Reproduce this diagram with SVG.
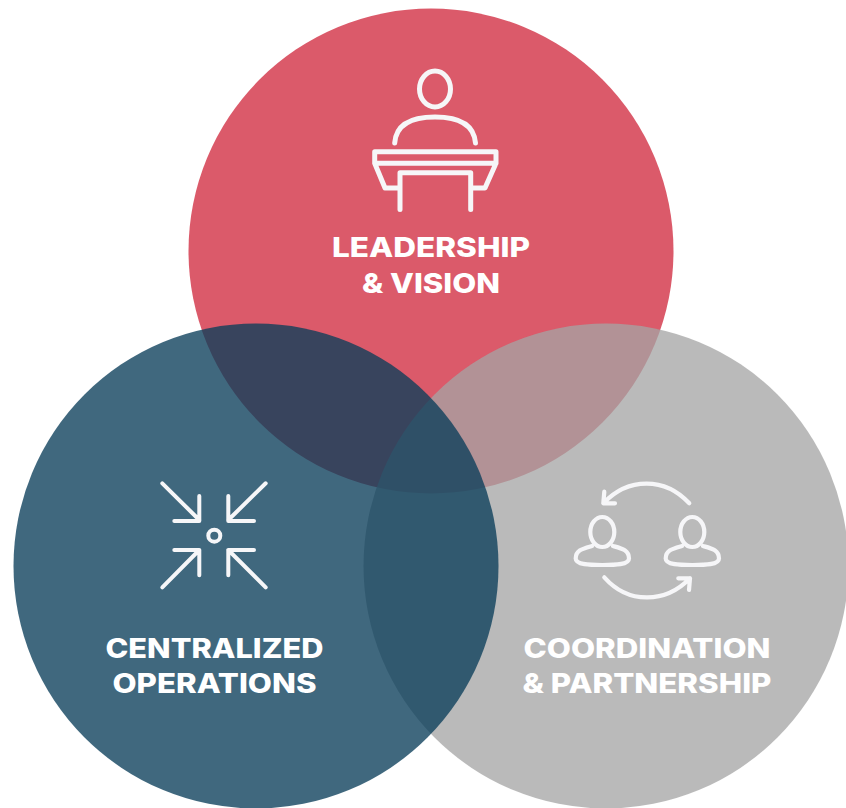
<svg xmlns="http://www.w3.org/2000/svg" width="846" height="808" viewBox="0 0 846 808">
<style>
.ic{fill:none;stroke:#f6f6f8;stroke-linecap:round;stroke-linejoin:round}
.t{font-family:"Inter","Liberation Sans",sans-serif;font-weight:800;font-size:27px;fill:#fff;text-anchor:middle}
</style>
<rect width="846" height="808" fill="#fff"/>
<g id="node-leadership">
<circle cx="431" cy="251" r="242.500" fill="#db5a6a"/>
</g>
<g id="node-coordination">
<circle cx="606" cy="566" r="242.500" fill="#a4a4a4" fill-opacity=".76"/>
</g>
<g id="node-centralized">
<circle cx="256" cy="566" r="242.500" fill="#0a3d5a" fill-opacity=".78"/>
</g>
<g id="icon-leadership" class="ic" stroke-width="5">
<ellipse cx="435" cy="89" rx="15.500" ry="18"/>
<path d="M394.700 143C396 125 410 117 435 117C460 117 474 125 475.500 143"/>
<path d="M374.700 151.700H496V163.300H374.700ZM374.700 163.300L385 188H400M496 163.300L485 188H470.700M400 209.500V172.700H470.700V209.500"/>
</g>
<g id="icon-centralized" class="ic" stroke-width="4">
<path d="M162.300 483.300L199.300 520M174.300 521H199.300V496"/>
<path d="M265.700 483.300L228.300 520M254 521H228.300V496"/>
<path d="M162.300 587.300L199.300 550M174.300 550H199.300V575.300"/>
<path d="M265.700 587.300L228.300 550M254 550H228.300V575.300"/>
<circle cx="214.300" cy="535.700" r="6"/>
</g>
<g id="icon-coordination" class="ic" stroke-width="4.200">
<path d="M592 546C583 548.500 575.700 550 575.700 558.500C575.700 565 590 565 602.300 565C615 565 629 565 629 558.500C629 550 622 548.500 613 546"/>
<ellipse cx="602.300" cy="532" rx="12" ry="15"/>
<path d="M682 546C673 548.500 665.700 550 665.700 558.500C665.700 565 680 565 692.300 565C705 565 719 565 719 558.500C719 550 712 548.500 703 546"/>
<ellipse cx="692.300" cy="532" rx="12" ry="15"/>
<path d="M689.300 503.300C665 477 628 477 603.300 503.300M604.300 491.700L603.300 503.300H615"/>
<path d="M604.300 577.300C628 604 665 604 690 578.300M678.300 578.300H690L689 590"/>
</g>
<g id="labels">
<text class="t" x="431" y="256.500" textLength="198" lengthAdjust="spacingAndGlyphs">LEADERSHIP</text>
<text class="t" x="431" y="292.500" textLength="138" lengthAdjust="spacingAndGlyphs">&amp; VISION</text>
<text class="t" x="214.500" y="657.500" textLength="218" lengthAdjust="spacingAndGlyphs">CENTRALIZED</text>
<text class="t" x="214.500" y="692.500" textLength="204" lengthAdjust="spacingAndGlyphs">OPERATIONS</text>
<text class="t" x="647" y="657.500" textLength="247" lengthAdjust="spacingAndGlyphs">COORDINATION</text>
<text class="t" x="647" y="692.500" textLength="249" lengthAdjust="spacingAndGlyphs">&amp; PARTNERSHIP</text>
</g>
</svg>
